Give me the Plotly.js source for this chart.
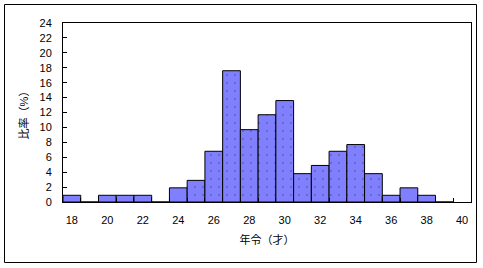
<!DOCTYPE html>
<html>
<head>
<meta charset="utf-8">
<script src="https://cdn.plot.ly/plotly-3.0.1.min.js"></script>
<style>
html,body{margin:0;padding:0;background:#fff;}
#chart{width:483px;height:268px;}
</style>
</head>
<body>
<div id="chart"></div>
<script>
const ages = [18,19,20,21,22,23,24,25,26,27,28,29,30,31,32,33,34,35,36,37,38,39];
const ratio = [0.9,0,0.9,0.9,0.9,0,1.9,2.9,6.8,17.6,9.7,11.7,13.6,3.8,4.9,6.8,7.7,3.8,0.9,1.9,0.9,0];
const xTicks = [18,20,22,24,26,28,30,32,34,36,38,40];
const yTicks = [0,2,4,6,8,10,12,14,16,18,20,22,24];
const xTitle = '年令（才）';
const yTitle = '比率（%）';

const fontFam = 'Liberation Sans, Noto Sans CJK JP, sans-serif';

const trace = {
  type: 'bar',
  x: ages,
  y: ratio,
  width: 1,
  marker: {
    color: '#8080FF',
    line: {color: '#000', width: 1},
    pattern: {
      shape: ages.map(a => (a >= 25 && a <= 35) ? '.' : ''),
      size: 8,
      solidity: 0.025,
      fgcolor: '#000',
      bgcolor: '#8080FF',
      fillmode: 'overlay'
    }
  },
  hoverinfo: 'skip'
};

const boundaries = ages.concat([40]).map(a => a + 0.5);

const layout = {
  width: 483,
  height: 268,
  margin: {l: 63, r: 12, t: 23, b: 66},
  paper_bgcolor: '#fff',
  plot_bgcolor: '#fff',
  showlegend: false,
  bargap: 0,
  font: {family: fontFam, size: 11, color: '#000'},
  xaxis: {
    range: [17.5, 40.5],
    tickmode: 'array',
    tickvals: xTicks,
    ticktext: xTicks.map(String),
    ticks: '',
    ticklabelstandoff: 8,
    showgrid: false,
    zeroline: false,
    showline: true,
    linecolor: '#000',
    linewidth: 1,
    mirror: true,
    minor: {ticks: 'inside', tickmode: 'array', tickvals: boundaries, ticklen: 4, tickcolor: '#000', showgrid: false},
    title: {text: xTitle, standoff: 11, font: {family: fontFam, size: 11}}
  },
  yaxis: {
    range: [0, 24],
    tickvals: yTicks,
    ticks: 'inside',
    ticklen: 4,
    tickcolor: '#000',
    ticklabelstandoff: 8,
    showgrid: false,
    zeroline: false,
    showline: true,
    linecolor: '#000',
    linewidth: 1,
    mirror: true,
    title: {text: yTitle, standoff: 8, font: {family: fontFam, size: 11}}
  },
  shapes: [{
    type: 'rect', xref: 'paper', yref: 'paper',
    x0: (4.5 - 63) / 408, x1: (476.5 - 63) / 408,
    y0: (202 - 262.5) / 179, y1: (202 - 4.5) / 179,
    line: {color: '#000', width: 1}, fillcolor: 'rgba(0,0,0,0)', layer: 'below'
  }]
};

Plotly.newPlot('chart', [trace], layout, {staticPlot: true, displayModeBar: false});
</script>
</body>
</html>
